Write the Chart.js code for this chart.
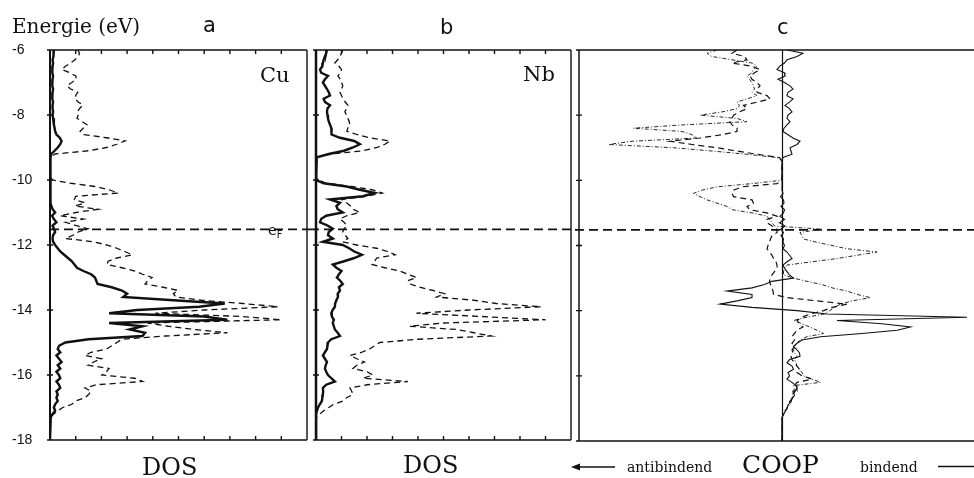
<!DOCTYPE html>
<html>
<head>
<meta charset="utf-8">
<title>DOS und COOP Cu / Nb</title>
<script src="https://cdn.jsdelivr.net/npm/chart.js@4.4.0/dist/chart.umd.min.js"></script>
<style>
  body { margin: 0; background: #fff; }
  #wrap { position: relative; width: 974px; height: 478px; overflow: hidden; }
  canvas { position: absolute; top: 0; }
  .lbl { position: absolute; line-height: 1; white-space: nowrap; color: #111; }
  .serif { font-family: "DejaVu Serif", serif; }
  .sans { font-family: "DejaVu Sans", sans-serif; }
  sub { font-size: 70%; vertical-align: -3px; }
</style>
</head>
<body>
<div id="wrap">
  <canvas id="chartA" width="310" height="478" style="left:0px"></canvas>
  <canvas id="chartB" width="265" height="478" style="left:310px"></canvas>
  <canvas id="chartC" width="399" height="478" style="left:575px"></canvas>

  <div class="lbl serif" style="left:12px;top:16px;font-size:20px">Energie (eV)</div>
  <div class="lbl sans" style="left:203px;top:15px;font-size:21px">a</div>
  <div class="lbl sans" style="left:440px;top:17px;font-size:21px">b</div>
  <div class="lbl sans" style="left:777px;top:17px;font-size:21px">c</div>
  <div class="lbl serif" style="left:260px;top:65px;font-size:21px">Cu</div>
  <div class="lbl serif" style="left:523px;top:64px;font-size:21px">Nb</div>
  <div class="lbl sans" style="left:268px;top:223px;font-size:14px">e<sub>F</sub></div>
  <div class="lbl serif" style="left:142px;top:455px;font-size:24px">DOS</div>
  <div class="lbl serif" style="left:403px;top:453px;font-size:24px">DOS</div>
  <div class="lbl serif" style="left:742px;top:452px;font-size:25px">COOP</div>
  <div class="lbl serif" style="left:627px;top:460px;font-size:14px">antibindend</div>
  <div class="lbl serif" style="left:860px;top:460px;font-size:14px">bindend</div>
  <svg style="position:absolute;left:0;top:0" width="974" height="478">
    <line x1="578" y1="467" x2="615" y2="467" stroke="#111" stroke-width="1.4"/>
    <polygon points="571,467 580,463.5 580,470.5" fill="#111"/>
    <line x1="938" y1="466.5" x2="974" y2="466.5" stroke="#111" stroke-width="1.3"/>
  </svg>
</div>
<script>
// energy grid (eV), shared by all curves
const energies = [
  -6.0,-6.1,-6.2,-6.3,-6.4,-6.5,-6.6,-6.7,-6.8,-6.9,
  -7.0,-7.1,-7.2,-7.3,-7.4,-7.5,-7.6,-7.7,-7.8,-7.9,
  -8.0,-8.1,-8.2,-8.3,-8.4,-8.5,-8.6,-8.7,-8.8,-8.9,
  -9.0,-9.1,-9.2,-9.3,-9.4,-9.5,-9.6,-9.7,-9.8,-9.9,
  -10.0,-10.1,-10.2,-10.3,-10.4,-10.5,-10.6,-10.7,-10.8,-10.9,
  -11.0,-11.1,-11.2,-11.3,-11.4,-11.5,-11.6,-11.7,-11.8,-11.9,
  -12.0,-12.1,-12.2,-12.3,-12.4,-12.5,-12.6,-12.7,-12.8,-12.9,
  -13.0,-13.1,-13.2,-13.3,-13.4,-13.5,-13.6,-13.7,-13.8,-13.9,
  -14.0,-14.1,-14.2,-14.3,-14.4,-14.5,-14.6,-14.7,-14.8,-14.9,
  -15.0,-15.1,-15.2,-15.3,-15.4,-15.5,-15.6,-15.7,-15.8,-15.9,
  -16.0,-16.1,-16.2,-16.3,-16.4,-16.5,-16.6,-16.7,-16.8,-16.9,
  -17.0,-17.1,-17.2,-17.3,-17.4,-17.5,-17.6,-17.7,-17.8,-17.9,
  -18.0
];
const fermiLevel = -11.52;
const energyTicks = [-6, -8, -10, -12, -14, -16, -18];
const dosTicks = [1, 2, 3, 4, 5, 6, 7, 8, 9];

// panel a: Cu
const cuLocal = [
  0.15,0.12,0.15,0.10,0.12,0.10,0.08,0.10,0.12,0.10,
  0.08,0.10,0.12,0.10,0.08,0.10,0.12,0.10,0.10,0.12,
  0.10,0.12,0.15,0.15,0.18,0.20,0.25,0.38,0.45,0.40,
  0.30,0.18,0.05,0.02,0.02,0.02,0.02,0.02,0.02,0.02,
  0.02,0.02,0.02,0.02,0.02,0.02,0.02,0.02,0.05,0.10,
  0.20,0.08,0.15,0.25,0.10,0.15,0.20,0.12,0.10,0.12,
  0.20,0.30,0.40,0.55,0.70,0.85,0.95,1.05,1.30,1.60,
  1.75,1.80,1.85,2.40,2.80,3.00,2.85,4.80,6.80,5.80,
  3.40,2.30,6.00,6.90,2.30,3.60,3.10,3.70,3.60,1.50,
  0.60,0.35,0.30,0.40,0.25,0.35,0.45,0.30,0.40,0.25,
  0.35,0.40,0.25,0.35,0.40,0.25,0.30,0.25,0.30,0.20,
  0.15,0.20,0.10,0.03,0,0,0,0,0,0,
  0
];
const cuTotal = [
  1.08,1.15,1.10,0.97,0.80,0.60,0.46,0.78,1.00,1.02,
  0.85,0.66,0.80,1.08,1.00,0.97,1.10,1.28,1.15,1.08,
  1.10,1.05,1.25,1.44,1.30,1.17,1.30,2.20,2.92,2.60,
  2.20,1.50,0.20,0.02,0,0,0,0,0,0,
  0.10,0.80,1.75,2.30,2.65,1.00,0.95,1.36,0.97,1.87,
  1.00,0.39,1.30,0.60,1.00,1.48,1.10,0.89,0.60,1.70,
  2.20,2.60,2.90,3.20,2.60,2.26,2.22,2.80,3.30,3.60,
  3.97,3.80,3.70,4.40,4.98,4.80,4.90,5.90,7.50,8.87,
  6.00,4.10,7.50,9.00,3.80,4.60,5.60,6.90,4.50,2.80,
  2.60,2.40,2.20,1.60,1.36,2.00,1.70,1.48,2.30,2.20,
  2.02,3.30,3.60,1.80,1.36,1.60,1.50,1.36,1.00,0.85,
  0.50,0.30,0.15,0,0,0,0,0,0,0,
  0
];

// panel b: Nb
const nbLocal = [
  0.43,0.40,0.35,0.30,0.27,0.25,0.16,0.20,0.47,0.35,
  0.27,0.35,0.43,0.50,0.55,0.30,0.35,0.55,0.45,0.43,
  0.45,0.47,0.50,0.55,0.60,0.60,0.62,0.94,1.50,1.72,
  1.45,1.10,0.50,0.03,0,0,0,0,0,0,
  0,0.30,1.20,1.72,2.30,1.84,0.55,0.94,0.80,0.85,
  1.05,0.40,0.20,0.16,0.45,0.66,0.50,0.47,0.66,0.27,
  1.05,1.30,1.50,1.80,1.50,1.10,0.66,0.80,1.00,0.90,
  0.82,0.95,1.05,0.90,0.94,0.85,0.86,0.80,0.75,0.74,
  0.65,0.60,0.62,0.70,0.66,0.70,0.74,0.85,0.94,0.60,
  0.47,0.45,0.43,0.35,0.27,0.35,0.43,0.38,0.35,0.40,
  0.47,0.60,0.74,0.40,0.27,0.28,0.27,0.25,0.23,0.15,
  0.08,0.04,0,0,0,0,0,0,0,0,
  0
];
const nbTotal = [
  1.05,1.00,0.94,0.85,0.74,0.90,1.00,0.95,0.86,0.95,
  1.00,1.05,1.00,0.94,1.00,1.05,1.15,1.25,1.20,1.13,
  1.20,1.25,1.30,1.33,1.25,1.21,1.60,2.10,2.90,2.70,
  2.40,1.84,0.60,0.03,0,0,0,0,0,0,
  0.10,0.40,1.40,2.20,2.60,2.00,1.00,1.20,1.35,1.45,
  1.72,1.20,0.94,1.10,1.21,1.10,1.05,1.15,1.25,1.05,
  1.60,2.38,2.80,3.10,2.38,2.30,2.20,2.70,3.28,3.60,
  3.94,3.60,3.70,4.06,4.60,5.04,4.73,6.20,7.07,8.83,
  6.00,3.94,6.50,9.00,5.00,3.67,5.50,6.20,6.87,4.00,
  2.50,2.30,2.10,1.80,1.33,1.60,1.90,1.60,1.45,2.00,
  2.23,1.84,3.60,2.00,1.33,1.40,1.45,1.20,1.05,0.70,
  0.50,0.30,0.15,0,0,0,0,0,0,0,
  0
];

// panel c: COOP (negative = antibindend, positive = bindend)
const coopSolid = [
  0.10,0.42,0.30,0.10,0.05,-0.05,-0.10,0.05,0.06,-0.08,
  0.05,0.16,0.22,0.12,0.10,0.22,0.15,0.06,0.15,0.20,
  0.12,0.10,0.16,0.10,0.04,0.02,0.12,0.22,0.36,0.30,
  0.16,0.18,0.20,0.02,0,0,0,0,0,0,
  0,0,0,0,0.02,-0.03,0.03,0.04,-0.02,0.05,
  0.03,-0.04,0.05,-0.05,0.06,-0.03,0.03,-0.02,0.03,0.02,
  0.05,0.02,0.10,0.15,0.20,0.10,0.02,0.05,0.10,0.15,
  0.23,-0.20,-0.35,-0.60,-1.10,-0.60,-0.60,-0.90,-1.24,-0.60,
  0.30,0.90,3.70,1.10,2.00,2.57,2.30,1.60,0.77,0.40,
  0.30,0.23,0.30,0.35,0.36,0.15,0.10,0.20,0.23,0.12,
  0.15,0.10,0.20,0.28,0.30,0.22,0.25,0.20,0.18,0.12,
  0.10,0.06,0.02,0,0,0,0,0,0,0,
  0
];
const coopDash = [
  -0.90,-1.00,-0.75,-0.70,-1.00,-0.60,-0.44,-0.55,-0.64,-0.60,
  -0.50,-0.44,-0.50,-0.50,-0.30,-0.24,-0.50,-0.77,-0.70,-0.85,
  -0.97,-1.00,-1.04,-1.00,-0.90,-0.90,-1.20,-1.64,-2.24,-1.80,
  -1.30,-0.90,-0.50,-0.05,0,0,0,0,0,0,
  0,-0.10,-0.80,-0.97,-1.00,-0.97,-0.60,-0.57,-0.70,-0.65,
  -0.30,-0.10,-0.30,-0.30,-0.20,-0.10,-0.10,-0.20,-0.23,-0.25,
  -0.28,-0.30,-0.25,-0.20,-0.17,-0.12,-0.10,-0.10,-0.15,-0.20,
  -0.23,-0.25,-0.23,-0.20,-0.18,-0.17,0.10,0.70,1.30,1.00,
  0.83,0.57,0.40,0.30,0.35,0.42,0.30,0.25,0.20,0.25,
  0.20,0.25,0.20,0.22,0.18,0.20,0.25,0.30,0.35,0.30,
  0.40,0.60,0.30,0.25,0.30,0.25,0.22,0.20,0.15,0.12,
  0.10,0.05,0.02,0,0,0,0,0,0,0,
  0
];
const coopDot = [
  -1.30,-1.50,-1.40,-1.00,-0.60,-0.50,-0.57,-0.60,-0.70,-0.65,
  -0.60,-0.57,-0.55,-0.60,-0.50,-0.70,-0.90,-0.85,-0.90,-1.20,
  -1.64,-0.90,-0.70,-2.00,-2.97,-2.00,-1.80,-1.70,-3.00,-3.47,
  -2.17,-1.40,-0.70,-0.10,0,0,0,0,0,0,
  -0.02,-0.60,-1.30,-1.60,-1.77,-1.64,-1.50,-1.30,-1.10,-1.00,
  -0.60,-0.30,-0.25,-0.20,-0.15,0.80,0.36,0.40,0.43,0.70,
  1.00,1.30,1.90,1.50,1.10,0.60,0.10,0.05,0.03,0.03,
  0.23,0.50,0.80,1.00,1.30,1.50,1.77,1.40,1.17,1.05,
  0.95,0.85,0.50,0.23,0.40,0.55,0.70,0.83,0.50,0.36,
  0.30,0.25,0.23,0.25,0.30,0.25,0.28,0.30,0.35,0.40,
  0.43,0.60,0.77,0.23,0.25,0.20,0.22,0.20,0.15,0.12,
  0.10,0.06,0.03,0,0,0,0,0,0,0,
  0
];

const ink = '#111';

function curve(values, width, dash) {
  return {
    data: energies.map((e, i) => ({ x: values[i], y: e })),
    showLine: true,
    pointRadius: 0,
    borderColor: ink,
    borderWidth: width,
    borderDash: dash,
    tension: 0
  };
}

// frame, inward ticks, zero line and Fermi level
const framePlugin = {
  id: 'frame',
  afterDatasetsDraw(chart, args, o) {
    const ctx = chart.ctx, a = chart.chartArea;
    const xs = chart.scales.x, ys = chart.scales.y;
    ctx.save();
    ctx.strokeStyle = ink;
    ctx.lineWidth = 1.4;
    ctx.beginPath();
    ctx.moveTo(a.left, a.top); ctx.lineTo(a.right, a.top);
    ctx.moveTo(a.left, a.bottom); ctx.lineTo(a.right, a.bottom);
    if (o.right) { ctx.moveTo(a.right, a.top); ctx.lineTo(a.right, a.bottom); }
    o.xTicks.forEach(v => {
      const px = xs.getPixelForValue(v);
      ctx.moveTo(px, a.top); ctx.lineTo(px, a.top + 4);
      ctx.moveTo(px, a.bottom); ctx.lineTo(px, a.bottom - 4);
    });
    energyTicks.forEach(v => {
      const py = ys.getPixelForValue(v);
      ctx.moveTo(a.left - 3, py); ctx.lineTo(a.left + 3, py);
    });
    ctx.stroke();
    ctx.lineWidth = o.leftWidth;
    ctx.beginPath();
    ctx.moveTo(a.left, a.top); ctx.lineTo(a.left, a.bottom);
    ctx.stroke();
    if (o.zero) {
      const px = Math.round(xs.getPixelForValue(0)) + 0.5;
      ctx.lineWidth = 1.2;
      ctx.beginPath();
      ctx.moveTo(px, a.top); ctx.lineTo(px, a.bottom);
      ctx.stroke();
    }
    const fy = ys.getPixelForValue(fermiLevel);
    ctx.lineWidth = 1.6;
    ctx.setLineDash([9, 5]);
    ctx.beginPath();
    ctx.moveTo(o.fermiFromArea ? a.left : 0, fy);
    ctx.lineTo(chart.width, fy);
    ctx.stroke();
    ctx.restore();
  }
};

function makeChart(id, datasets, xMin, xMax, pad, frame, showEnergy) {
  return new Chart(document.getElementById(id), {
    type: 'scatter',
    data: { datasets },
    options: {
      responsive: false,
      animation: false,
      devicePixelRatio: 1,
      layout: { padding: pad },
      plugins: { legend: { display: false }, tooltip: { enabled: false }, frame },
      scales: {
        x: { type: 'linear', min: xMin, max: xMax, display: false },
        y: {
          type: 'linear', min: -18, max: -6,
          display: showEnergy,
          grid: { display: false },
          border: { display: false },
          afterFit: s => { s.width = showEnergy ? 38 : 0; },
          ticks: {
            stepSize: 2,
            crossAlign: 'far',
            color: ink,
            font: { family: 'Liberation Sans', size: 14 }
          }
        }
      }
    },
    plugins: [framePlugin]
  });
}

makeChart('chartA',
  [curve(cuLocal, 2.4, []), curve(cuTotal, 1.3, [6, 4])],
  0, 10, { left: 12, right: 3, top: 50, bottom: 38 },
  { xTicks: dosTicks, right: true, leftWidth: 2, fermiFromArea: true }, true);

makeChart('chartB',
  [curve(nbLocal, 2.4, []), curve(nbTotal, 1.3, [6, 4])],
  0, 10, { left: 6, right: 4, top: 50, bottom: 38 },
  { xTicks: dosTicks, right: true, leftWidth: 2.5, fermiFromArea: false }, false);

makeChart('chartC',
  [curve(coopSolid, 1.1, []), curve(coopDash, 1.2, [6, 4]), curve(coopDot, 0.9, [4, 2, 1, 2])],
  -4.06, 3.84, { left: 4, right: 0, top: 50, bottom: 37 },
  { xTicks: [], right: false, leftWidth: 1.5, zero: true, fermiFromArea: false }, false);
</script>
</body>
</html>
